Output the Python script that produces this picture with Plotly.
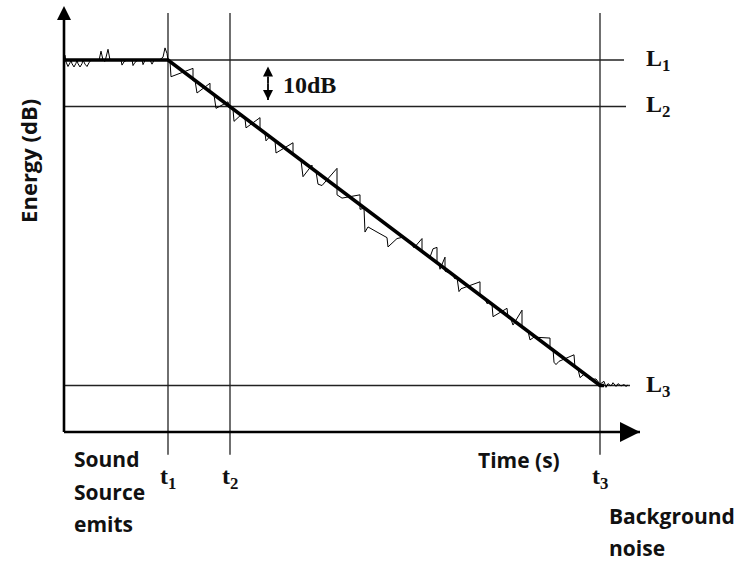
import plotly.graph_objects as go

# ---- schematic values -------------------------------------------------
# characteristic times (s) and energy levels (dB)
t_marks = [1.04, 1.66, 5.36]
t_names = ["t<sub>1</sub>", "t<sub>2</sub>", "t<sub>3</sub>"]
levels = [80, 70, 10]
level_names = ["L<sub>1</sub>", "L<sub>2</sub>", "L<sub>3</sub>"]

# idealised decay (thick line)
decay_t = [0.0, 1.04, 5.36, 5.40]
decay_db = [80, 80, 10, 10]

# measured energy (thin, noisy line)
meas_t = [
    0.00, 0.01, 0.02, 0.04, 0.06, 0.07, 0.08, 0.10, 0.12, 0.13, 0.14, 0.16,
    0.18, 0.19, 0.21, 0.23, 0.25, 0.27, 0.31, 0.35, 0.37, 0.39, 0.41, 0.44,
    0.46, 0.50, 0.54, 0.57, 0.58, 0.60, 0.63, 0.68, 0.69, 0.71, 0.74, 0.78,
    0.79, 0.81, 0.86, 0.88, 0.90, 0.96, 0.99, 1.01, 1.03, 1.04,
    1.06, 1.07, 1.29, 1.29, 1.31, 1.33, 1.46, 1.46, 1.50, 1.52, 1.64, 1.65,
    1.69, 1.70, 1.78, 1.79, 1.81, 1.82, 1.96, 1.96, 2.01, 2.02, 2.06,
    2.11, 2.12, 2.29, 2.29, 2.37, 2.39, 2.48, 2.48, 2.52, 2.54, 2.58, 2.73,
    2.73, 2.78, 2.96, 2.96, 3.00, 3.01, 3.04, 3.13, 3.16, 3.23, 3.24, 3.29,
    3.33, 3.39, 3.47, 3.50, 3.58, 3.58, 3.66, 3.69, 3.73, 3.73, 3.75, 3.76,
    3.81, 3.81, 3.88, 3.91, 3.93, 3.95, 3.97, 4.16, 4.16, 4.21, 4.23, 4.26,
    4.28, 4.29, 4.33, 4.43, 4.44, 4.47, 4.49, 4.58, 4.58, 4.64, 4.66, 4.70,
    4.86, 4.86, 4.89, 4.90, 4.92, 4.95, 5.10, 5.11, 5.14, 5.16, 5.20, 5.26,
    5.32, 5.36, 5.40, 5.42, 5.44, 5.47, 5.49, 5.52, 5.54, 5.57, 5.60, 5.62,
    5.64,
]
meas_db = [
    80.3, 81.0, 79.6, 78.6, 79.4, 80.0, 79.2, 78.5, 79.3, 80.0, 79.2, 78.5,
    79.2, 80.0, 79.1, 78.6, 79.4, 80.0, 80.1, 79.9, 81.9, 80.0, 79.7, 82.3,
    80.0, 80.1, 79.9, 80.0, 78.9, 79.6, 80.0, 80.1, 78.8, 79.5, 80.0, 80.1,
    79.0, 79.9, 80.0, 79.1, 79.9, 80.1, 80.6, 82.6, 81.4, 80.0,
    79.7, 76.4, 78.2, 75.5, 75.6, 72.9, 75.0, 73.0, 72.5, 69.6, 71.0, 70.1,
    69.4, 66.8, 68.4, 67.8, 67.4, 65.4, 67.6, 65.0, 64.2, 62.6, 63.6,
    62.7, 60.0, 62.2, 59.6, 58.4, 54.9, 57.4, 56.6, 56.0, 53.3, 53.0, 56.7,
    51.0, 50.3, 51.0, 47.9, 48.1, 43.0, 44.1, 43.0, 42.6, 41.8, 39.8, 40.9,
    41.6, 41.9, 40.6, 39.6, 41.6, 38.6, 37.6, 39.4, 39.7, 36.4, 36.1, 35.0,
    37.6, 34.6, 34.0, 32.9, 33.2, 30.2, 30.8, 32.3, 29.3, 28.6, 27.6, 28.0,
    27.5, 24.8, 25.3, 26.6, 24.6, 24.2, 23.0, 26.2, 22.4, 21.7, 19.8, 20.4,
    20.2, 17.8, 17.9, 15.0, 14.5, 15.2, 16.6, 13.8, 13.5, 11.7, 12.4, 11.3,
    11.4, 10.3, 10.9, 9.6, 10.4, 9.9, 10.6, 9.8, 10.4, 9.9, 10.2, 9.8,
    10.1,
]

# ---- drawing extents (data units) ------------------------------------
X_END, Y_END = 5.76, 91.6          # axis arrow tips
V_TOP, V_BOT = 90.1, -4.9          # vertical guide extents
H_END = [5.60, 5.62, 5.66]         # horizontal guide right ends
SPAN_X = 2.04                      # x of the 10 dB span marker

SANS = "Open Sans"
SERIF = "Liberation Serif"
INK = "#111111"
GUIDE = "#222222"

fig = go.Figure()


def arrow_line(xs, ys, symbol, size, width):
    """Straight line with an arrow head at its last point."""
    fig.add_trace(go.Scatter(
        x=xs, y=ys, mode="lines+markers",
        line=dict(color="black", width=width),
        marker=dict(symbol=["circle", symbol], size=[0, size],
                    color="black", opacity=1, line=dict(width=0)),
        hoverinfo="skip", showlegend=False, cliponaxis=False))


fig.add_trace(go.Scatter(x=meas_t, y=meas_db, mode="lines",
                         line=dict(color="black", width=1),
                         hoverinfo="skip", showlegend=False))
fig.add_trace(go.Scatter(x=decay_t, y=decay_db, mode="lines",
                         line=dict(color="black", width=3.6),
                         hoverinfo="skip", showlegend=False))

# axes with arrow heads
arrow_line([0, X_END], [0, 0], "arrow-right", 20, 2.6)
arrow_line([0, 0], [0, Y_END], "arrow-up", 14, 2.6)

# 10 dB span marker between L1 and L2
mid = (levels[0] + levels[1]) / 2
arrow_line([SPAN_X, SPAN_X], [mid, levels[0] - 1.4], "arrow-up", 10, 1.8)
arrow_line([SPAN_X, SPAN_X], [mid, levels[1] + 1.4], "arrow-down", 10, 1.8)

shapes = []
for t in t_marks:
    shapes.append(dict(type="line", xref="x", yref="y", x0=t, x1=t,
                       y0=V_BOT, y1=V_TOP, line=dict(color=GUIDE, width=1.3),
                       layer="below"))
for lv, xe in zip(levels, H_END):
    shapes.append(dict(type="line", xref="x", yref="y", x0=0, x1=xe,
                       y0=lv, y1=lv, line=dict(color=GUIDE, width=1.3),
                       layer="below"))

ann = []
ann.append(dict(x=2.17, y=74.6, xref="x", yref="y", text="10dB",
                showarrow=False, xanchor="left", yanchor="middle",
                font=dict(family=SERIF, size=24, color=INK, weight="bold")))

# level labels
for lv, name in zip(levels, level_names):
    ann.append(dict(x=5.80, y=lv, xref="x", yref="y", text=name,
                    showarrow=False, xanchor="left", yanchor="middle",
                    font=dict(family=SERIF, size=24, color=INK,
                              weight="bold")))

# time labels
for t, name in zip(t_marks, t_names):
    ann.append(dict(x=t, y=-6.2, xref="x", yref="y", text=name,
                    showarrow=False, xanchor="center", yanchor="top",
                    font=dict(family=SERIF, size=24, color=INK,
                              weight="bold")))

sans_font = dict(family=SANS, size=21, color=INK, weight="bold")
# axis titles and notes
ann.append(dict(x=-0.36, y=58.3, xref="x", yref="y", text="Energy (dB)",
                showarrow=False, textangle=-90, xanchor="center",
                yanchor="middle",
                font=dict(family=SANS, size=22, color=INK, weight="bold")))
ann.append(dict(x=4.12, y=-6.0, xref="x", yref="y", text="Time (s)",
                showarrow=False, xanchor="left", yanchor="middle",
                font=sans_font))
for txt, yv in zip(["Sound", "Source", "emits"], [-5.8, -12.9, -19.8]):
    ann.append(dict(x=0.08, y=yv, xref="x", yref="y", text=txt,
                    showarrow=False, xanchor="left", yanchor="middle",
                    font=sans_font))
for txt, yv in zip(["Background", "noise"], [-18.1, -24.9]):
    ann.append(dict(x=5.43, y=yv, xref="x", yref="y", text=txt,
                    showarrow=False, xanchor="left", yanchor="middle",
                    font=sans_font))

fig.update_layout(
    width=739, height=563,
    margin=dict(l=0, r=0, t=0, b=0),
    paper_bgcolor="white", plot_bgcolor="white",
    xaxis=dict(range=[-0.64, 6.75], visible=False, fixedrange=True),
    yaxis=dict(range=[-28.17, 92.90], visible=False, fixedrange=True),
    shapes=shapes, annotations=ann, showlegend=False,
)

fig.write_html("out.html")
